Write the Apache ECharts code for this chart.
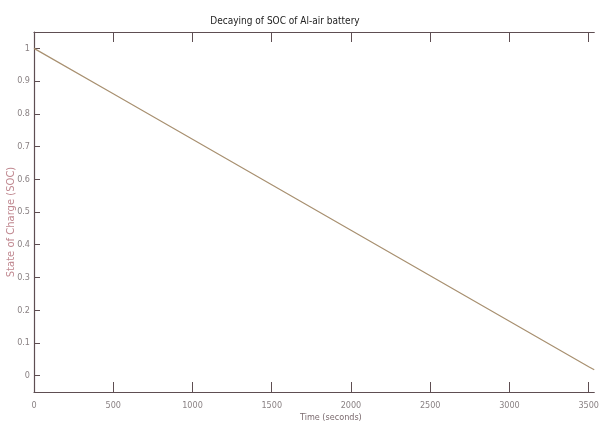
<!DOCTYPE html>
<html lang="en">
<head>
    <meta charset="UTF-8">
    <title>Decaying of SOC</title>
    <style>
        body{ margin:0; background:#fff; }
    </style>
</head>
<body>
<div id="main" style="width: 602px;height:426px;"></div>
<script src="https://cdn.jsdelivr.net/npm/echarts@6/dist/echarts.min.js"></script>
<script type="text/javascript">
    // data
    var timeSec = [0, 500, 1000, 1500, 2000, 2500, 3000, 3500, 3535];
    var socVals = [1.0, 0.861, 0.722, 0.583, 0.444, 0.305, 0.166, 0.027, 0.018];
    var xTicks = [0, 500, 1000, 1500, 2000, 2500, 3000, 3500];
    var yTicks = [0, 0.1, 0.2, 0.3, 0.4, 0.5, 0.6, 0.7, 0.8, 0.9, 1];

    var axisCol = '#5e4e52';
    var labelFont = '"Liberation Sans Narrow", "DejaVu Sans Condensed", sans-serif';
    var points = timeSec.map(function (t, i) { return [t, socVals[i]]; });

    var chart = echarts.init(document.getElementById('main'));
    var option = {
        animation: false,
        backgroundColor: '#fff',
        title: {
            text: 'Decaying of SOC of Al-air battery',
            left: 280,
            top: 11,
            textAlign: 'center',
            textStyle: { fontSize: 10, fontWeight: 'normal', color: '#222', fontFamily: labelFont }
        },
        grid: { left: 34, right: 0, top: 32, bottom: 34 },
        xAxis: [{
            type: 'value',
            min: 0,
            max: 3535,
            position: 'bottom',
            axisLine: { onZero: false, lineStyle: { color: axisCol, width: 1.2 } },
            axisTick: { inside: true, length: 10, customValues: xTicks, lineStyle: { color: axisCol } },
            axisLabel: {
                color: '#8a8284', fontSize: 9, fontFamily: labelFont, margin: 9,
                customValues: xTicks,
                formatter: function (v) { return String(v); }
            },
            splitLine: { show: false }
        }, {
            type: 'value',
            min: 0,
            max: 3535,
            position: 'top',
            axisLine: { show: true, onZero: false, lineStyle: { color: axisCol, width: 1.2 } },
            axisTick: { show: true, inside: true, length: 10, customValues: xTicks, lineStyle: { color: axisCol } },
            axisLabel: { show: false },
            splitLine: { show: false }
        }],
        yAxis: {
            type: 'value',
            min: -0.05,
            max: 1.05,
            axisLine: { show: true, onZero: false, lineStyle: { color: axisCol, width: 1.2 } },
            axisTick: {
                show: true, inside: true, length: 6, customValues: yTicks, lineStyle: { color: axisCol }
            },
            axisLabel: {
                color: '#8a8284', fontSize: 9, fontFamily: labelFont, margin: 4,
                customValues: yTicks,
                formatter: function (v) { return String(v); }
            },
            splitLine: { show: false }
        },
        graphic: [{
            type: 'text',
            left: 300,
            top: 413,
            style: { text: 'Time (seconds)', fill: '#7a6a6e', font: '9px ' + labelFont }
        }, {
            type: 'text',
            x: 11,
            y: 222,
            rotation: Math.PI / 2,
            style: {
                text: 'State of Charge (SOC)', fill: '#c08890',
                font: '10px "DejaVu Sans", sans-serif',
                align: 'center', verticalAlign: 'middle'
            }
        }],
        series: [{
            type: 'line',
            data: points,
            showSymbol: false,
            lineStyle: { color: '#a89070', width: 1.2 }
        }]
    };
    chart.setOption(option);
</script>
</body>
</html>
